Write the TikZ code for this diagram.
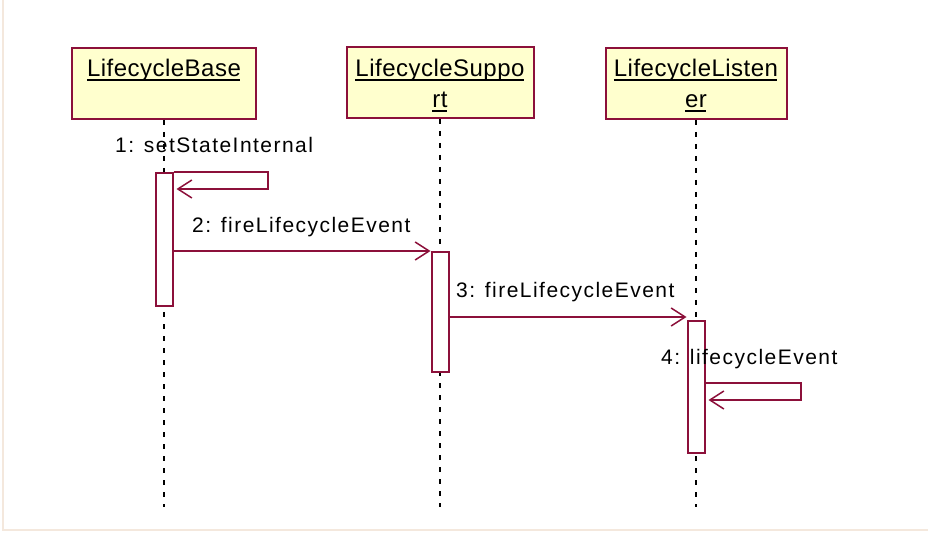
\documentclass[tikz,border=0pt]{standalone}
\usepackage{fontspec}
\setmainfont{Liberation Sans}
\newfontfamily\msgfont[LetterSpace=7]{Liberation Sans}
\newfontfamily\objfont[LetterSpace=2]{Liberation Sans}
\usetikzlibrary{arrows.meta}
\definecolor{umlrot}{RGB}{140,16,58}
\definecolor{umlgelb}{RGB}{255,255,206}
\definecolor{rahmen}{RGB}{244,232,221}
\newcommand{\unter}[1]{\setbox0\hbox{#1}\rlap{\rule[-4pt]{\dimexpr\wd0-1pt\relax}{1.5pt}}\box0}
\tikzset{objekt/.style={draw=umlrot, fill=umlgelb, line width=2pt, minimum width=#1, minimum height=71pt, inner sep=0pt},
	objname/.style={font=\objfont\fontsize{24}{31}\selectfont, align=center, anchor=base, inner sep=0pt},
	aktiv/.style={draw=umlrot, fill=white, line width=2pt, minimum width=17pt, minimum height=#1, inner sep=0pt, anchor=north},
	lebenslinie/.style={black, line width=1.5pt, dash pattern=on 5pt off 7pt},
	nachricht/.style={draw=umlrot, line width=2pt, -{Straight Barb[length=14pt, width=18pt, line width=1.5pt]}},
	msglabel/.style={font=\msgfont\fontsize{21}{25}\selectfont, anchor=base west, inner sep=0pt}}

\begin{document}
\begin{tikzpicture}[x=1pt, y=-1pt]
	\useasboundingbox (0,0) rectangle (928,534);
	%Rahmen
	\draw[rahmen, line width=2.5pt] (3,0) -- (3,530) -- (928,530);
	%Objekte
	\node[objekt=184pt, anchor=north] (base) at (164,47) {};
	\node[objekt=187pt, anchor=north] (support) at (440,46) {};
	\node[objekt=181pt, anchor=north] (listener) at (696,47) {};
	\node[objname] (base-name) at (164,77) {\unter{LifecycleBase}};
	\node[objname] (support-name) at (440,108) {\unter{LifecycleSuppo}\\\unter{rt}};
	\node[objname] (listener-name) at (696,108) {\unter{LifecycleListen}\\\unter{er}};
	%Lebenslinien
	\coordinate (base-ende) at (164,507);
	\coordinate (support-ende) at (440,507);
	\coordinate (listener-ende) at (696,507);
	\draw[lebenslinie] (base.south) -- (base-ende);
	\draw[lebenslinie] (support.south) -- (support-ende);
	\draw[lebenslinie] (listener.south) -- (listener-ende);
	%Aktivierungen
	\node[aktiv=133pt] (akt1) at (164,172) {};
	\node[aktiv=120pt] (akt2) at (440,251) {};
	\node[aktiv=132pt] (akt3) at (696,320) {};
	%Nachrichten
	\draw[nachricht] (akt1.north east) -- ++(94,0) |- ([xshift=3pt, yshift=-17pt]akt1.north east);
	\draw[nachricht] (akt1.east |- akt2.north west) -- (akt2.north west);
	\draw[nachricht] ([yshift=3pt]akt2.east |- akt3.north west) -- ([yshift=3pt]akt3.north west);
	\draw[nachricht] ([yshift=-63pt]akt3.north east) -- ++(95,0) |- ([xshift=3pt, yshift=-80pt]akt3.north east);
	\node[msglabel] (m1) at (115,153) {1: setStateInternal};
	\node[msglabel] (m2) at (192,233) {2: fireLifecycleEvent};
	\node[msglabel] (m3) at (456,298) {3: fireLifecycleEvent};
	\node[msglabel] (m4) at (661,364) {4: lifecycleEvent};
\end{tikzpicture}
\end{document}
